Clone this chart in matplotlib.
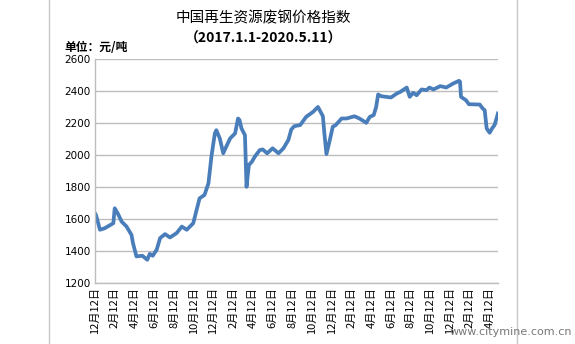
import matplotlib
matplotlib.use("Agg")
import matplotlib.pyplot as plt
from matplotlib.lines import Line2D

plt.rcParams["font.family"] = ["Noto Sans CJK SC", "DejaVu Sans"]

# x in months after 2016-12-12 (category axis, one label every 2 months)
months = [0.0, 0.1, 0.5, 1.0, 1.86, 2.0, 2.3, 2.7, 3.2, 3.7, 3.85, 4.2, 4.8, 5.3, 5.55,
          5.85, 6.25, 6.6, 7.1, 7.6, 8.27, 8.8, 9.3, 9.96, 10.3, 10.6, 11.1, 11.5, 11.8,
          12.15, 12.3, 12.65, 13.0, 13.3, 13.7, 14.2, 14.5, 14.65, 14.85, 15.2, 15.36,
          15.6, 15.9, 16.2, 16.7, 17.0, 17.45, 18.0, 18.6, 19.1, 19.6, 19.9, 20.2, 20.8,
          21.4, 22.1, 22.6, 23.1, 23.25, 23.46, 23.8, 24.1, 24.4, 25.0, 25.5, 26.3, 26.8,
          27.5, 27.85, 28.25, 28.5, 28.7, 29.0, 29.5, 30.0, 30.6, 30.95, 31.6, 31.9, 32.25,
          32.6, 33.1, 33.6, 33.9, 34.3, 35.0, 35.6, 36.3, 36.9, 37.0, 37.1, 37.6, 37.9, 39.0,
          39.3, 39.5, 39.7, 40.0, 40.25, 40.5, 40.65, 40.84]
index = [1635, 1625, 1532, 1542, 1573, 1666, 1635, 1583, 1552, 1500, 1449, 1366, 1370,
         1345, 1382, 1370, 1407, 1480, 1505, 1484, 1511, 1552, 1532, 1573, 1656, 1728, 1749,
         1822, 1988, 2133, 2153, 2102, 2009, 2050, 2102, 2133, 2226, 2216, 2164, 2122, 1800,
         1936, 1956, 1988, 2029, 2033, 2009, 2040, 2009, 2040, 2092, 2158, 2178, 2185, 2236,
         2267, 2298, 2240, 2133, 2004, 2091, 2174, 2185, 2226, 2226, 2240, 2226, 2199, 2236,
         2247, 2298, 2376, 2365, 2361, 2357, 2382, 2392, 2419, 2361, 2386, 2371, 2407, 2403,
         2419, 2407, 2428, 2419, 2444, 2461, 2455, 2361, 2340, 2315, 2313, 2288, 2278, 2164,
         2137, 2164, 2185, 2216, 2257]

tick_months = list(range(0, 41, 2))
tick_labels = ["12月12日", "2月12日", "4月12日", "6月12日", "8月12日", "10月12日",
               "12月12日", "2月12日", "4月12日", "6月12日", "8月12日", "10月12日",
               "12月12日", "2月12日", "4月12日", "6月12日", "8月12日", "10月12日",
               "12月12日", "2月12日", "4月12日"]
y_ticks = list(range(1200, 2601, 200))

fig = plt.figure(figsize=(5.75, 3.44), dpi=100)
ax = fig.add_axes([0.1652, 0.1773, 0.7009, 0.6526])

ax.plot(months, index, color="#4a7ebb", lw=2.7, solid_joinstyle="round")
ax.set_xlim(0, 40.85)
ax.set_ylim(1200, 2600)
ax.set_yticks(y_ticks)
ax.set_yticklabels([str(v) for v in y_ticks], fontsize=7.5, family="DejaVu Sans")
ax.set_xticks(tick_months)
ax.set_xticklabels(tick_labels, rotation=90, fontsize=8)
ax.tick_params(length=0, pad=3)
ax.grid(axis="y", color="#bdbdbd", lw=1.0)
ax.set_axisbelow(True)
for s in ["top", "right"]:
    ax.spines[s].set_visible(False)
for s in ["left", "bottom"]:
    ax.spines[s].set_color("#bdbdbd")
    ax.spines[s].set_linewidth(1.0)

# outer frame lines and titles
for xf in (49 / 575, 517 / 575):
    fig.add_artist(Line2D([xf, xf], [0, 1], color="#c8c8c8", lw=1.0, transform=fig.transFigure))
fig.text(0.458, 0.948, "中国再生资源废钢价格指数", ha="center", va="center", fontsize=10.5)
fig.text(0.458, 0.888, "（2017.1.1-2020.5.11）", ha="center", va="center",
         fontsize=10, fontweight="bold")
fig.text(0.112, 0.862, "单位：元/吨", ha="left", va="center", fontsize=8.5, fontweight="bold")
fig.text(0.995, 0.02, "www.citymine.com.cn", ha="right", va="bottom", fontsize=8,
         color="#777777", family="DejaVu Sans")

fig.savefig("out.png", dpi=100)
